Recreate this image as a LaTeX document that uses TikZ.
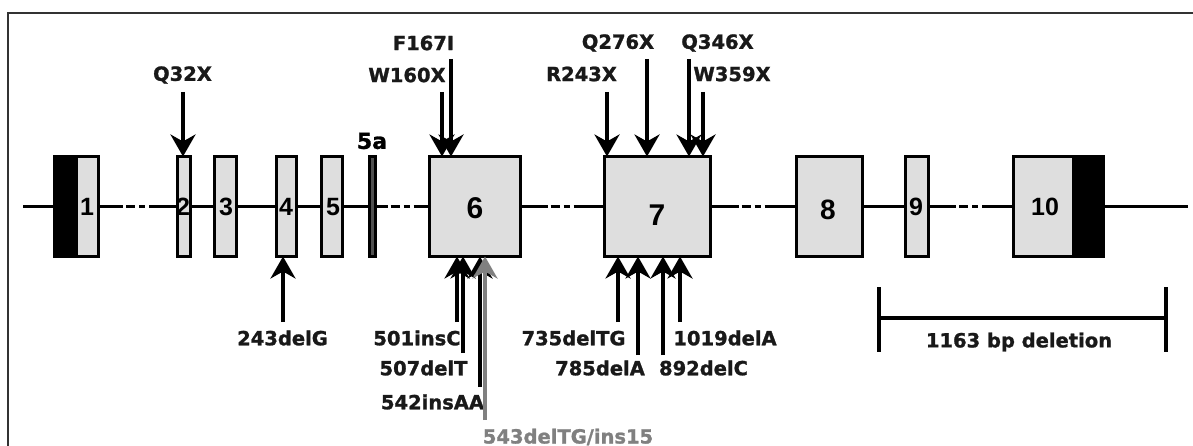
\documentclass[tikz,border=0pt]{standalone}
\usepackage{fontspec}
\setmainfont{DejaVu Sans}[BoldFeatures={FakeBold=1.2}]
\newfontfamily\numfont{Liberation Sans}
\usetikzlibrary{arrows.meta,calc}
\definecolor{exfill}{RGB}{222,222,222}
\definecolor{ex5afill}{RGB}{80,80,80}
\definecolor{framecol}{RGB}{50,50,50}
\definecolor{graymut}{RGB}{128,128,128}
\tikzset{
  exon/.style={draw=black, line width=3.5pt, fill=exfill, minimum height=100pt, inner sep=0pt, outer sep=0pt},
  backbone/.style={line width=3pt, black},
  mutarrow/.style={line width=3.5pt, -{Stealth[length=22pt,width=25pt,inset=7pt]}},
  mutlabel/.style={font=\fontsize{19.5}{22}\selectfont\bfseries, inner sep=0pt, text=black!90},
  exnum/.style={font=\numfont\fontsize{25}{28}\selectfont\bfseries, inner sep=0pt},
  delbar/.style={line width=3.5pt, black},
  framestyle/.style={line width=2pt, framecol},
}
\newcommand\intron[2]{\draw[backbone] (#1) -- ($(#1)!0.5!(#2)+(-15,0)$) ++(3,0) -- ++(9,0) ++(4,0) -- ++(6,0) ++(4,0) -- (#2);}
\begin{document}
\begin{tikzpicture}[x=1pt,y=-1pt]
\useasboundingbox (0,0) rectangle (1193,446);
\fill[white] (0,0) rectangle (1193,446);
% frame
\coordinate (fbl) at (8,446);
\coordinate (ftl) at (8,13);
\coordinate (ftr) at (1193,13);
\draw[framestyle] (fbl) -- (ftl) -- (ftr);

% exons
\node[exon, minimum width=44pt,
  path picture={\fill[black] (path picture bounding box.south west) rectangle ([xshift=23.5pt]path picture bounding box.north west);}]
  (ex1) at (76.5,206.5) {};
\node[exon, minimum width=13pt] (ex2) at (184,206.5) {};
\node[exon, minimum width=22pt] (ex3) at (225.5,206.5) {};
\node[exon, minimum width=20pt] (ex4) at (286.5,206.5) {};
\node[exon, minimum width=21pt] (ex5) at (332,206.5) {};
\node[exon, minimum width=6pt, fill=ex5afill, line width=2.5pt] (ex5a) at (372.5,206.5) {};
\node[exon, minimum width=91pt] (ex6) at (475,206.5) {};
\node[exon, minimum width=106pt] (ex7) at (657.5,206.5) {};
\node[exon, minimum width=66pt] (ex8) at (829.5,206.5) {};
\node[exon, minimum width=23pt] (ex9) at (917,206.5) {};
\node[exon, minimum width=90pt,
  path picture={\fill[black] ([xshift=-31.5pt]path picture bounding box.south east) rectangle (path picture bounding box.north east);}]
  (ex10) at (1058.5,206.5) {};

% backbone
\coordinate (bstart) at (23,206.5);
\coordinate (bend) at (1188,206.5);
\draw[backbone] (bstart) -- (ex1.west);
\intron{ex1.east}{ex2.west}
\draw[backbone] (ex2.east) -- (ex3.west);
\draw[backbone] (ex3.east) -- (ex4.west);
\draw[backbone] (ex4.east) -- (ex5.west);
\draw[backbone] (ex5.east) -- (ex5a.west);
\intron{ex5a.east}{ex6.west}
\intron{ex6.east}{ex7.west}
\intron{ex7.east}{ex8.west}
\draw[backbone] (ex8.east) -- (ex9.west);
\intron{ex9.east}{ex10.west}
\draw[backbone] (ex10.east) -- (bend);

% exon numbers
\node[exnum] (n1) at (87,207) {1};
\node[exnum] (n2) at (183,207) {2};
\node[exnum] (n3) at (226,207) {3};
\node[exnum] (n4) at (286,207) {4};
\node[exnum] (n5) at (333,207) {5};
\node[font=\fontsize{22}{24}\selectfont\bfseries, inner sep=0pt] (n5a) at (372,141) {5a};
\node[exnum, font=\numfont\fontsize{30}{32}\selectfont\bfseries] (n6) at (475,208) {6};
\node[exnum, font=\numfont\fontsize{30}{32}\selectfont\bfseries] (n7) at (657,215) {7};
\node[exnum, font=\numfont\fontsize{28}{30}\selectfont\bfseries] (n8) at (828,210) {8};
\node[exnum] (n9) at (916,207) {9};
\node[exnum] (n10) at (1045,207) {10};

% top mutation labels
\node[mutlabel] (lq32) at (182.5,75) {Q32X};
\node[mutlabel] (lf167) at (423.5,43) {F167I};
\node[mutlabel] (lw160) at (407,75) {W160X};
\node[mutlabel] (lr243) at (581.5,74) {R243X};
\node[mutlabel] (lq276) at (618,43) {Q276X};
\node[mutlabel] (lq346) at (717.5,43) {Q346X};
\node[mutlabel] (lw359) at (732,74) {W359X};

% top arrows
\coordinate (tq32) at (183,92);
\coordinate (tw160) at (442,92);
\coordinate (tf167) at (451,59);
\coordinate (tr243) at (607,92);
\coordinate (tq276) at (647,59);
\coordinate (tq346) at (689,59);
\coordinate (tw359) at (703,92);
\draw[mutarrow] (tq32) -- (tq32 |- ex2.north);
\draw[mutarrow] (tw160) -- (tw160 |- ex6.north);
\draw[mutarrow] (tf167) -- (tf167 |- ex6.north);
\draw[mutarrow] (tr243) -- (tr243 |- ex7.north);
\draw[mutarrow] (tq276) -- (tq276 |- ex7.north);
\draw[mutarrow] (tq346) -- (tq346 |- ex7.north);
\draw[mutarrow] (tw359) -- (tw359 |- ex7.north);

% bottom mutation labels
\node[mutlabel] (l243) at (282.5,338) {243delG};
\node[mutlabel] (l501) at (417,338) {501insC};
\node[mutlabel] (l507) at (423.5,368) {507delT};
\node[mutlabel] (l542) at (432.5,402) {542insAA};
\node[mutlabel, text=graymut] (l543) at (568,437) {543delTG/ins15};
\node[mutlabel] (l735) at (573.5,338) {735delTG};
\node[mutlabel] (l785) at (600,368) {785delA};
\node[mutlabel] (l892) at (703.5,368) {892delC};
\node[mutlabel] (l1019) at (725,338) {1019delA};

% bottom arrows
\coordinate (b243) at (283,322);
\coordinate (b501) at (457,322);
\coordinate (b507) at (463,353);
\coordinate (b542) at (480,387);
\coordinate (b543) at (485,420);
\coordinate (b735) at (618,322);
\coordinate (b785) at (638,355);
\coordinate (b892) at (663,355);
\coordinate (b1019) at (680,322);
\draw[mutarrow] (b243) -- (b243 |- ex4.south);
\draw[mutarrow] (b501) -- (b501 |- ex6.south);
\draw[mutarrow] (b507) -- (b507 |- ex6.south);
\draw[mutarrow] (b542) -- (b542 |- ex6.south);
\draw[mutarrow, graymut] (b543) -- (b543 |- ex6.south);
\draw[mutarrow] (b735) -- (b735 |- ex7.south);
\draw[mutarrow] (b785) -- (b785 |- ex7.south);
\draw[mutarrow] (b892) -- (b892 |- ex7.south);
\draw[mutarrow] (b1019) -- (b1019 |- ex7.south);

% deletion bar
\coordinate (delL) at (879,318);
\coordinate (delR) at (1166,318);
\coordinate (delLt) at (879,287);
\coordinate (delLb) at (879,352);
\coordinate (delRt) at (1166,287);
\coordinate (delRb) at (1166,352);
\draw[delbar] (delL) -- (delR);
\draw[delbar] (delLt) -- (delLb);
\draw[delbar] (delRt) -- (delRb);
\node[mutlabel] (ldel) at (1019,342) {1163 bp deletion};
\end{tikzpicture}
\end{document}
